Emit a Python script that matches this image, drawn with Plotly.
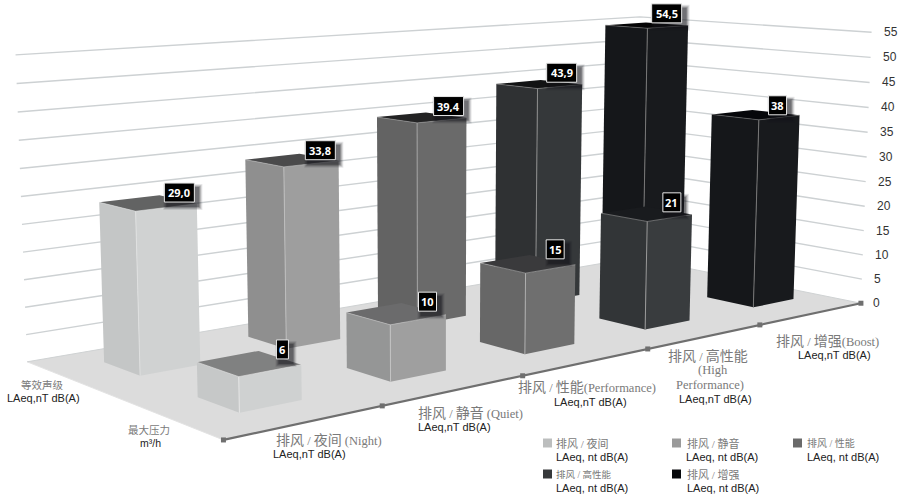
import numpy as np
import plotly.graph_objects as go

# ---- data ----
CATEGORY_CN = ["夜间", "静音", "性能", "高性能", "增强"]
CATEGORY_EN = ["(Night)", "(Quiet)", "(Performance)", "(High Performance)", "(Boost)"]
SOUND_LEVEL = [29.0, 33.8, 39.4, 43.9, 54.5]
MAX_PRESSURE = [6, 10, 15, 21, 38]
SOUND_LABELS = ["29,0", "33,8", "39,4", "43,9", "54,5"]
PRESSURE_LABELS = ["6", "10", "15", "21", "38"]
Y_TICKS = [0, 5, 10, 15, 20, 25, 30, 35, 40, 45, 50, 55]

# ---- perspective calibration: (category axis, series axis, value) -> page pixel ----
CAL_WORLD = [(0,0,0),(1,0,0),(2,0,0),(3,0,0),(4,0,0),(5,0,0),(0,2,0),(5,2,0),(5,0,55),(0,2,55),(5,2,55),(0,2,25),(5,0,25)]
CAL_PIXEL = [(222,438),(383,405),(523,376),(648,349),(760,326),(860,304),(27,363),(636,256),(872,32),(16,54),(639,17),(22,226),(866,182)]

def fit_projection(world, pixel):
    A, b = [], []
    for (u, v, z), (x, y) in zip(world, pixel):
        A.append([u, v, z, 1, 0, 0, 0, 0, -x*u, -x*v, -x*z]); b.append(x)
        A.append([0, 0, 0, 0, u, v, z, 1, -y*u, -y*v, -y*z]); b.append(y)
    p = np.linalg.lstsq(np.array(A, float), np.array(b, float), rcond=None)[0]
    return np.append(p, 1).reshape(3, 4)

P = fit_projection(CAL_WORLD, CAL_PIXEL)

def project(u, v, z):
    q = P @ np.array([u, v, z, 1.0])
    return float(q[0]/q[2]), float(q[1]/q[2])

fig = go.Figure()

def poly(points, fill=None, line=None, width=1, close=True):
    pts = list(points) + ([points[0]] if close else [])
    fig.add_trace(go.Scatter(
        x=[p[0] for p in pts], y=[p[1] for p in pts], mode="lines",
        fill="toself" if fill else "none", fillcolor=fill,
        line=dict(color=line or "rgba(0,0,0,0)", width=width),
        hoverinfo="skip", showlegend=False))

# floor
poly([project(0,0,0), project(5,0,0), project(5,2,0), project(0,2,0)], fill="#dcdcdc")

# gridlines on the two walls
for t in Y_TICKS[1:]:
    poly([project(0,2,t), project(5,2,t), project(5,0,t)], line="#cdd1d3", width=1.4, close=False)
poly([project(0,0,0), project(0,2,0)], line="#e3e3e3", width=1, close=False)
poly([project(0,2,0), project(5,2,0), project(5,0,0)], line="#cfd2d3", width=1, close=False)

# bars
U_START = 0.54
U_STEP = 1.005
U_HALF = 0.20
V_HALF = 0.195
BACK_V = 1.52
FRONT_V = 0.55

BACK_STYLE = [
    dict(left="#c4c6c6", right="#d0d2d2", top="#626363", edge="#dfe0e0"),
    dict(left="#8f8f8f", right="#9e9e9e", top="#4a4a4b", edge="#bdbdbd"),
    dict(left="#636363", right="#6a6a6a", top="#232324", edge="#a0a0a0"),
    dict(left="#2f3133", right="#35383a", top="#121314", edge="#8c8c8c"),
    dict(left="#15171a", right="#181a1d", top="#050506", edge="#777777"),
]
FRONT_STYLE = [
    dict(left="#c6c8c8", right="#cfd1d1", top="#808181", edge="#e6e6e6"),
    dict(left="#959696", right="#9f9f9f", top="#6b6b6c", edge="#c4c4c4"),
    dict(left="#676767", right="#6f6f6f", top="#3a3a3c", edge="#b0b0b0"),
    dict(left="#323537", right="#393c3e", top="#191b1e", edge="#9a9a9a"),
    dict(left="#15171a", right="#181a1d", top="#06070a", edge="#777777"),
]

def u_center(i):
    return U_START + U_STEP * i

def bar(i, vc, value, s):
    ul, uh = u_center(i) - U_HALF, u_center(i) + U_HALF
    vl, vh = vc - V_HALF, vc + V_HALF
    poly([project(ul,vl,0), project(ul,vh,0), project(ul,vh,value), project(ul,vl,value)], fill=s["left"])
    poly([project(ul,vl,0), project(uh,vl,0), project(uh,vl,value), project(ul,vl,value)], fill=s["right"])
    poly([project(ul,vl,value), project(uh,vl,value), project(uh,vh,value), project(ul,vh,value)], fill=s["top"])
    poly([project(ul,vl,0), project(ul,vl,value)], line=s["edge"], width=1, close=False)
    poly([project(ul,vh,value), project(ul,vl,value), project(uh,vl,value)], line=s["edge"], width=0.6, close=False)

for i, val in enumerate(SOUND_LEVEL):
    bar(i, BACK_V, val, BACK_STYLE[i])
for i, val in enumerate(MAX_PRESSURE):
    bar(i, FRONT_V, val, FRONT_STYLE[i])

# front edge with tick marks
poly([project(0,0,0), project(5,0,0)], line="#6f6f6f", width=2.2, close=False)
tx = [project(u,0,0)[0] for u in range(6)]
ty = [project(u,0,0)[1] for u in range(6)]
fig.add_trace(go.Scatter(x=tx, y=ty, mode="markers", marker=dict(symbol="square", size=5, color="#6f6f6f"),
                         hoverinfo="skip", showlegend=False))

annotations, shapes = [], []

def text(x, y, s, size=12, color="#222222", family="Liberation Sans", anchor="left", align="left"):
    if anchor == "left":
        x -= 2  # annotations pad their text by about two pixels
    annotations.append(dict(x=x, y=y, xref="x", yref="y", text=s, showarrow=False, xanchor=anchor, yanchor="middle",
                            align=align, font=dict(size=size, color=color, family=family)))

# value labels
BACK_OFFSET = [(31.5,-10.5), (28.5,-10), (27,-11.5), (22.5,-11.5), (20,-12)]
FRONT_OFFSET = [(33.5,-14), (31.5,-12), (27.5,-14.5), (25.5,-11.5), (22,-9.5)]
LABEL_FONT = "Open Sans"

def value_label(i, vc, value, label, off):
    cx, cy = project(u_center(i), vc, value)
    cx += off[0]; cy += off[1]
    w = 6.0*len(label) + 6 if "," not in label else 30
    h = 19
    for k, op in zip((4, 3, 2, 1), (0.10, 0.16, 0.22, 0.32)):
        shapes.append(dict(type="rect", xref="x", yref="y", layer="above", line=dict(width=0),
                           fillcolor=f"rgba(20,20,25,{op})",
                           x0=cx - w/2 + 3 - k, x1=cx + w/2 + 4 + k, y0=cy - h/2 + 5 - k, y1=cy + h/2 + 4 + k))
    shapes.append(dict(type="rect", xref="x", yref="y", layer="above", fillcolor="#000000",
                       line=dict(color="#e8e8e8", width=1),
                       x0=cx - w/2, x1=cx + w/2, y0=cy - h/2, y1=cy + h/2))
    text(cx, cy, f"<b>{label}</b>", size=11, color="#ffffff", family=LABEL_FONT, anchor="center")

for i, val in enumerate(SOUND_LEVEL):
    value_label(i, BACK_V, val, SOUND_LABELS[i], BACK_OFFSET[i])
for i, val in enumerate(MAX_PRESSURE):
    value_label(i, FRONT_V, val, PRESSURE_LABELS[i], FRONT_OFFSET[i])

# axis tick labels
for t in Y_TICKS:
    x, y = project(5, 0, t)
    text(x + 12, y, str(t), size=12, color="#333333")

# category labels
SERIF = "Liberation Serif, Noto Sans CJK SC"
GREY = "#7a7a7a"

def cn_label(cn, en):
    big = 'font-size:14px'
    small = 'font-size:12.5px'
    return (f'<span style="{big}">排风</span><span style="{small}"> / </span>'
            f'<span style="{big}">{cn}</span><span style="{small}">{en}</span>')

SUB = "LAeq,nT dB(A)"
text(276, 440, cn_label(CATEGORY_CN[0], " " + CATEGORY_EN[0]), color=GREY, family=SERIF)
text(273, 454, SUB, size=11)
text(418, 413, cn_label(CATEGORY_CN[1], " " + CATEGORY_EN[1]), color=GREY, family=SERIF)
text(418, 427, SUB, size=11)
text(518, 387, cn_label(CATEGORY_CN[2], CATEGORY_EN[2]), color=GREY, family=SERIF)
text(554, 402, SUB, size=11)
text(668, 356, cn_label(CATEGORY_CN[3], ""), color=GREY, family=SERIF)
text(698, 370, "(High", size=12.5, color=GREY, family=SERIF)
text(676, 385, "Performance)", size=12.5, color=GREY, family=SERIF)
text(679, 399, SUB, size=11)
text(776, 341, cn_label(CATEGORY_CN[4], CATEGORY_EN[4]), color=GREY, family=SERIF)
text(798, 355, SUB, size=11)

# series labels
text(21, 385, "等效声级", size=10.5, color=GREY, family=SERIF)
text(7, 398, SUB, size=11)
text(128, 430, "最大压力", size=10.5, color=GREY, family=SERIF)
text(140, 443, "m³/h", size=10.5)

# legend
LEGEND_COLORS = ["#bcbebe", "#9a9a9a", "#6a6a6a", "#36393b", "#08090c"]
LEGEND_TEXT_SIZE = [11, 11, 10, 9.5, 11]
LEGEND_POS = [(543, 443, 556), (672, 443, 687), (793, 443, 807), (543, 474, 556), (672, 474, 687)]
for i, (sx, sy, tx0) in enumerate(LEGEND_POS):
    shapes.append(dict(type="rect", xref="x", yref="y", layer="above", line=dict(width=0),
                       fillcolor=LEGEND_COLORS[i], x0=sx, x1=sx + 9, y0=sy - 4.5, y1=sy + 4.5))
    text(tx0, sy, f"排风 / {CATEGORY_CN[i]}", size=LEGEND_TEXT_SIZE[i], color=GREY, family=SERIF)
    text(tx0 - (1 if i in (1,) else 0), sy + 14, "LAeq, nt dB(A)", size=11)

fig.update_layout(
    width=900, height=497, margin=dict(l=0, r=0, t=0, b=0),
    paper_bgcolor="white", plot_bgcolor="white", showlegend=False,
    xaxis=dict(range=[0, 900], visible=False, fixedrange=True),
    yaxis=dict(range=[497, 0], visible=False, fixedrange=True),
    annotations=annotations, shapes=shapes,
)
fig.write_html("out.html", config={"displayModeBar": False},
               post_script="document.body.style.margin='0';")
